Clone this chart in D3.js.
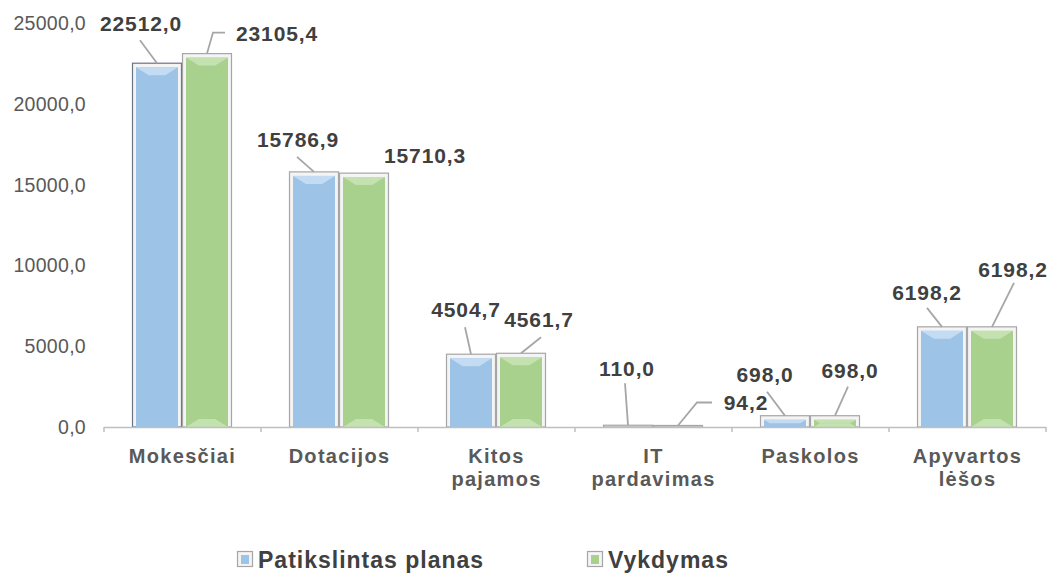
<!DOCTYPE html>
<html lang="lt">
<head>
<meta charset="UTF-8">
<title>Pajamos</title>
<script src="https://d3js.org/d3.v7.min.js"></script>
<style>
    body { margin: 0; background: #fff; }
    svg { display: block; font-family: "Liberation Sans", Arial, sans-serif; }
</style>
</head>
<body>
<div id="chart"></div>
<script>
    // duomenys
    const categories = [["Mokesčiai"], ["Dotacijos"], ["Kitos", "pajamos"], ["IT", "pardavimas"], ["Paskolos"], ["Apyvartos", "lėšos"]];
    const seriesNames = ["Patikslintas planas", "Vykdymas"];
    const planas = [22512.0, 15786.9, 4504.7, 110.0, 698.0, 6198.2];
    const vykdymas = [23105.4, 15710.3, 4561.7, 94.2, 698.0, 6198.2];
    const yTicks = [0, 5000, 10000, 15000, 20000, 25000];

    // etikečių vieta (poslinkis nuo stulpelio viršaus)
    const labelOffsets = [
        [[-16, -32, [[-17, -23]]], [70, -13, [[6, -21], [18, -21]]]],
        [[-16, -25, [[-17, -15]]], [61, -10, []]],
        [[-5, -37, [[-6, -27]]], [18, -26, [[20, -16]]]],
        [[-1, -49, [[-3, -42]]], [68, -15, [[19, -23], [34, -23]]]],
        [[-20, -34, [[-18, -24]]], [15, -38, [[13, -29]]]],
        [[-15, -27, [[-15, -19]]], [21, -50, [[22, -44]]]]
    ];

    const width = 1051, height = 575;
    const fill = ["#9dc3e6", "#a9d18e"];
    const bevel = ["#c3dbf3", "#c4e2b0"];
    const fmt = v => v.toFixed(1).replace(".", ",");

    const svg = d3.select("#chart").append("svg")
        .attr("width", width)
        .attr("height", height);

    const idx = d3.range(categories.length);
    const x = d3.scaleBand().domain(idx).range([104, 1046]).padding(0);
    const x1 = d3.scaleBand().domain([0, 1]).range([28, 128]).padding(0);
    const y = d3.scaleLinear().domain([0, 25000]).range([427, 23]);

    // y ašies žymės
    svg.append("g")
        .selectAll("text")
        .data(yTicks)
        .enter().append("text")
        .attr("x", 86)
        .attr("y", d => y(d) + 7)
        .attr("text-anchor", "end")
        .attr("fill", "#595959")
        .style("font-size", "19.5px")
        .style("letter-spacing", "0.3px")
        .text(d => fmt(d));

    // stulpeliai
    const values = [planas, vykdymas];
    const bars = [];
    idx.forEach(i => {
        [0, 1].forEach(s => bars.push({ i, s, v: values[s][i] }));
    });

    const g = svg.append("g");
    bars.forEach(b => {
        const bx = x(b.i) + x1(b.s);
        const bw = x1.bandwidth();
        const top = y(b.v);
        const h = y(0) - top;
        const bg = g.append("g");
        bg.append("rect")
            .attr("x", bx + 0.5).attr("y", top)
            .attr("width", bw - 1).attr("height", h)
            .attr("fill", "#f4f4f4")
            .attr("stroke", (b.i === 0 && b.s === 0) ? "#6a7386" : "#a6a6a6")
            .attr("stroke-width", 1.2);
        if (h > 8) {
            const ix = bx + 4, iy = top + 4, iw = bw - 8, ih = h - 4;
            bg.append("rect")
                .attr("x", ix).attr("y", iy)
                .attr("width", iw).attr("height", ih)
                .attr("fill", fill[b.s]);
            // skosas viršuje
            const bh = Math.min(8, ih / 2);
            bg.append("path")
                .attr("d", `M${ix},${iy}L${ix + iw},${iy}L${ix + iw - bh * 1.6},${iy + bh}L${ix + bh * 1.6},${iy + bh}Z`)
                .attr("fill", bevel[b.s]);
            if (b.s === 1) {
                bg.append("path")
                    .attr("d", `M${ix},${iy + ih}L${ix + iw},${iy + ih}L${ix + iw - bh * 1.6},${iy + ih - bh}L${ix + bh * 1.6},${iy + ih - bh}Z`)
                    .attr("fill", bevel[b.s]);
            }
        } else if (h > 3) {
            bg.append("rect")
                .attr("x", bx + 4).attr("y", top + 3)
                .attr("width", bw - 8).attr("height", h - 3)
                .attr("fill", fill[b.s]);
        }
    });

    // x ašis
    const axis = svg.append("g").attr("stroke", "#bfbfbf").attr("stroke-width", 1.5);
    axis.append("line")
        .attr("x1", x.range()[0]).attr("x2", x.range()[1])
        .attr("y1", y(0) + 0.5).attr("y2", y(0) + 0.5);
    axis.selectAll(".tick")
        .data(d3.range(categories.length + 1))
        .enter().append("line")
        .attr("x1", d => x.range()[0] + d * x.bandwidth())
        .attr("x2", d => x.range()[0] + d * x.bandwidth())
        .attr("y1", y(0))
        .attr("y2", y(0) + 5);

    // kategorijų pavadinimai
    const cat = svg.append("g")
        .selectAll("text")
        .data(idx)
        .enter().append("text")
        .attr("text-anchor", "middle")
        .attr("fill", "#595959")
        .style("font-size", "20px")
        .style("font-weight", "bold")
        .style("letter-spacing", "1.3px");
    cat.each(function (i) {
        categories[i].forEach((line, k) => {
            d3.select(this).append("tspan")
                .attr("x", x(i) + x.bandwidth() / 2)
                .attr("y", 463 + k * 23)
                .text(line);
        });
    });

    // reikšmių etiketės ir linijos
    const lbl = svg.append("g");
    bars.forEach(b => {
        const cx = x(b.i) + x1(b.s) + x1.bandwidth() / 2;
        const top = y(b.v);
        const [dx, dy, pts] = labelOffsets[b.i][b.s];
        if (pts.length) {
            const line = [[cx, top]].concat(pts.map(p => [cx + p[0], top + p[1]]));
            lbl.append("path")
                .attr("d", d3.line()(line))
                .attr("fill", "none")
                .attr("stroke", "#a6a6a6")
                .attr("stroke-width", 1.8);
        }
        lbl.append("text")
            .attr("x", cx + dx)
            .attr("y", top + dy)
            .attr("text-anchor", "middle")
            .attr("fill", "#404040")
            .style("font-size", "21px")
            .style("font-weight", "bold")
            .style("letter-spacing", "0.9px")
            .text(fmt(b.v));
    });

    // legenda
    const legendX = [237, 587];
    const leg = svg.append("g");
    seriesNames.forEach((name, s) => {
        leg.append("rect")
            .attr("x", legendX[s] + 0.5).attr("y", 551.5)
            .attr("width", 15).attr("height", 15)
            .attr("fill", "#f4f4f4").attr("stroke", "#a6a6a6").attr("stroke-width", 1.2);
        leg.append("rect")
            .attr("x", legendX[s] + 4).attr("y", 555)
            .attr("width", 8).attr("height", 9)
            .attr("fill", fill[s]);
        leg.append("text")
            .attr("x", legendX[s] + 21)
            .attr("y", 568)
            .attr("fill", "#404040")
            .style("font-size", "23px")
            .style("font-weight", "bold")
            .style("letter-spacing", "1px")
            .text(name);
    });
</script>
</body>
</html>
